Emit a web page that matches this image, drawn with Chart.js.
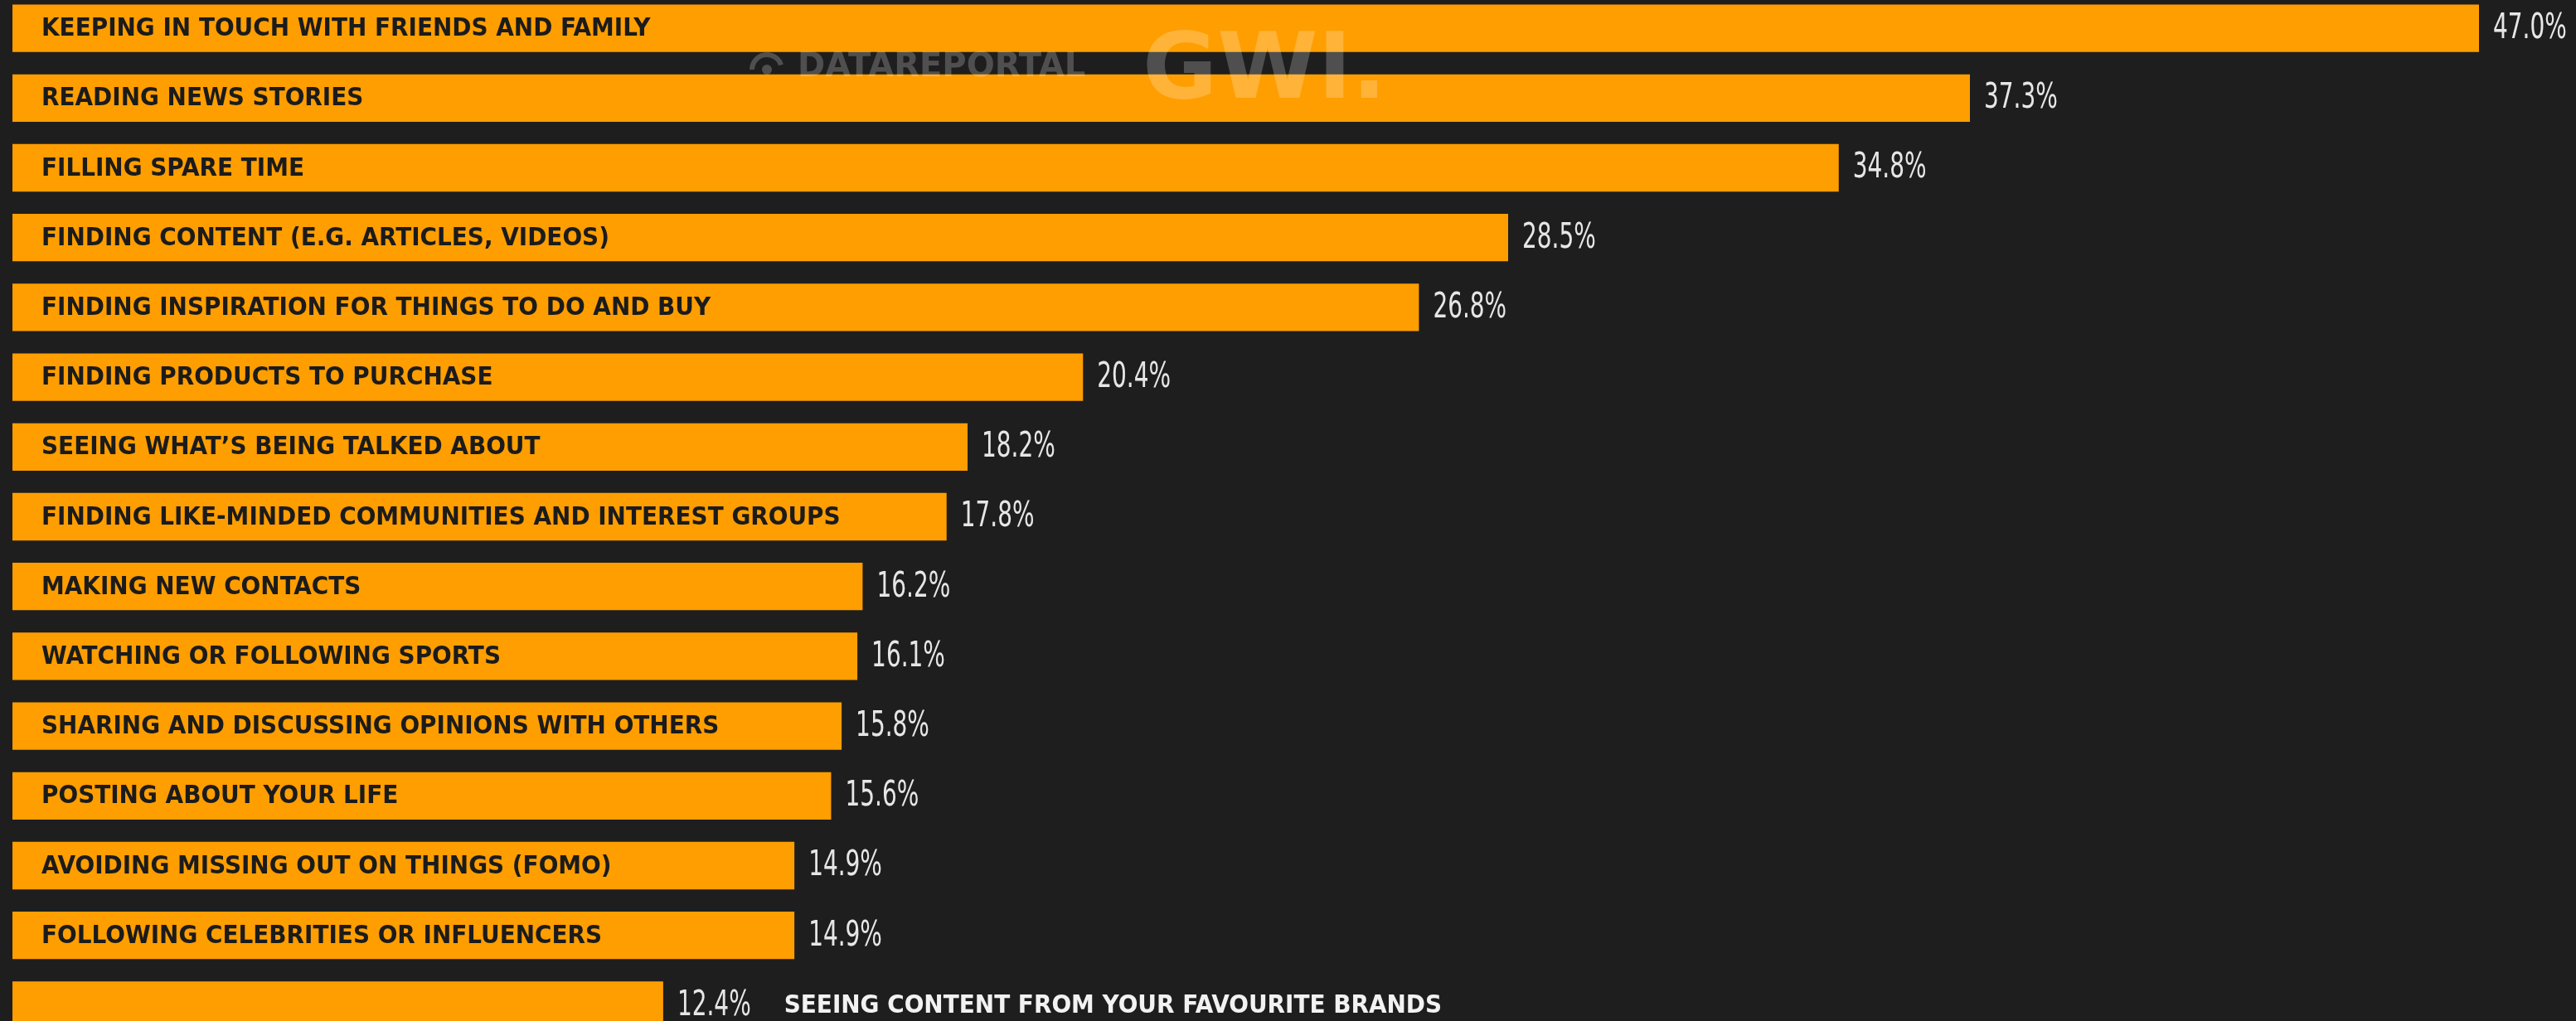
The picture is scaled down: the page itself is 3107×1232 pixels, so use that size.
<!DOCTYPE html>
<html>
<head>
<meta charset="utf-8">
<script src="https://cdn.jsdelivr.net/npm/chart.js@4.4.1/dist/chart.umd.min.js"></script>
<style>
  html, body { margin: 0; padding: 0; background: #1e1e1e; overflow: hidden; }
  #wrap { position: absolute; left: 0; top: -8px; width: 3107px; height: 1263px; }
</style>
</head>
<body>
<div id="wrap"><canvas id="chart" width="3107" height="1263"></canvas></div>
<script>
const categories = [
  'KEEPING IN TOUCH WITH FRIENDS AND FAMILY',
  'READING NEWS STORIES',
  'FILLING SPARE TIME',
  'FINDING CONTENT (E.G. ARTICLES, VIDEOS)',
  'FINDING INSPIRATION FOR THINGS TO DO AND BUY',
  'FINDING PRODUCTS TO PURCHASE',
  'SEEING WHAT\u2019S BEING TALKED ABOUT',
  'FINDING LIKE-MINDED COMMUNITIES AND INTEREST GROUPS',
  'MAKING NEW CONTACTS',
  'WATCHING OR FOLLOWING SPORTS',
  'SHARING AND DISCUSSING OPINIONS WITH OTHERS',
  'POSTING ABOUT YOUR LIFE',
  'AVOIDING MISSING OUT ON THINGS (FOMO)',
  'FOLLOWING CELEBRITIES OR INFLUENCERS',
  'SEEING CONTENT FROM YOUR FAVOURITE BRANDS'
];
const values = [47.0, 37.3, 34.8, 28.5, 26.8, 20.4, 18.2, 17.8, 16.2, 16.1, 15.8, 15.6, 14.9, 14.9, 12.4];
const valueLabels = values.map(v => v.toFixed(1) + '%');

const ORANGE = '#ff9e00';
const CAT_FONT = 'bold 31px "DejaVu Sans Condensed", "DejaVu Sans", sans-serif';
const VAL_FONT = '42px "DejaVu Sans Condensed", "DejaVu Sans", sans-serif';
const VAL_SCALE = 0.74;

// draws the category name inside the bar and the value after it
const barLabels = {
  id: 'barLabels',
  afterDatasetsDraw(chart) {
    const ctx = chart.ctx;
    const meta = chart.getDatasetMeta(0);
    ctx.save();
    ctx.textBaseline = 'middle';
    meta.data.forEach((bar, i) => {
      const left = bar.base;
      const right = bar.x;
      const y = bar.y + 1;

      // value label, squeezed horizontally
      ctx.font = VAL_FONT;
      ctx.fillStyle = '#e6e6e6';
      const vx = right + 17;
      ctx.save();
      ctx.translate(vx, y);
      ctx.scale(VAL_SCALE, 1);
      ctx.fillText(valueLabels[i], 0, 0);
      const vw = ctx.measureText(valueLabels[i]).width * VAL_SCALE;
      ctx.restore();

      // category label: inside if it fits, otherwise after the value
      ctx.font = CAT_FONT;
      const cw = ctx.measureText(categories[i]).width;
      if (cw + 35 + 10 < right - left) {
        ctx.fillStyle = '#1b1b1b';
        ctx.fillText(categories[i], left + 35, y);
      } else {
        ctx.fillStyle = '#f2f2f2';
        ctx.fillText(categories[i], vx + vw + 40, y);
      }
    });
    ctx.restore();
  }
};

// faint watermark over the top bars
const watermark = {
  id: 'watermark',
  afterDraw(chart) {
    const ctx = chart.ctx;
    ctx.save();
    ctx.fillStyle = 'rgba(255, 255, 255, 0.22)';
    ctx.strokeStyle = 'rgba(255, 255, 255, 0.22)';
    ctx.textBaseline = 'alphabetic';
    // little logo mark
    ctx.lineWidth = 6;
    ctx.beginPath();
    ctx.arc(925, 92, 18, Math.PI, Math.PI * 1.9);
    ctx.stroke();
    ctx.beginPath();
    ctx.arc(925, 92, 6, 0, Math.PI * 2);
    ctx.fill();
    ctx.font = 'bold 40px "DejaVu Sans", sans-serif';
    ctx.fillText('DATAREPORTAL', 962, 100);
    ctx.font = 'bold 110px "DejaVu Sans", sans-serif';
    ctx.fillText('GWI.', 1378, 126);
    ctx.restore();
  }
};

const ctx = document.getElementById('chart').getContext('2d');
new Chart(ctx, {
  type: 'bar',
  data: {
    labels: categories,
    datasets: [{
      data: values,
      backgroundColor: ORANGE,
      borderWidth: 0,
      barPercentage: 0.68,
      categoryPercentage: 1.0
    }]
  },
  options: {
    indexAxis: 'y',
    responsive: false,
    devicePixelRatio: 1,
    animation: false,
    layout: { padding: { left: 15, right: 117, top: 0, bottom: 0 } },
    plugins: {
      legend: { display: false },
      tooltip: { enabled: false }
    },
    scales: {
      x: { display: false, min: 0, max: 47 },
      y: { display: false }
    }
  },
  plugins: [barLabels, watermark]
});
</script>
</body>
</html>
